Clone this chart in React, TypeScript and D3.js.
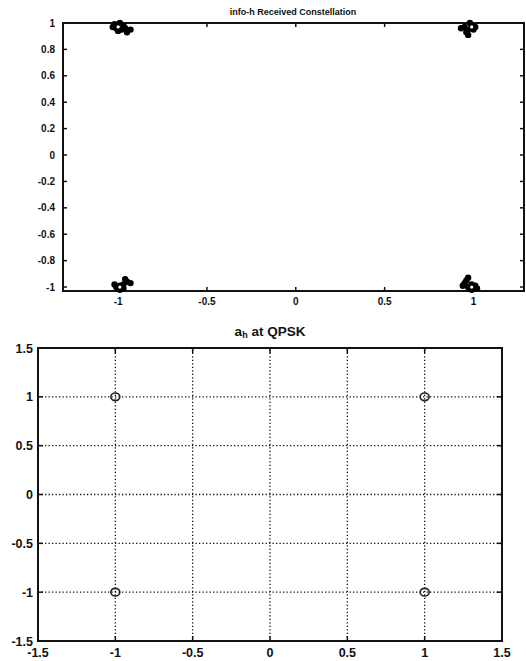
import React from "react";
import * as d3 from "d3";

// Received constellation samples (top chart)
const rxI = [
  -1.02, -0.99, -1.01, -0.98, -0.96, -0.93, -0.95, -1.0, -0.97, -1.03,
  0.95, 0.97, 0.99, 1.01, 0.98, 0.96, 0.97, 1.0, 0.93,
  -1.01, -0.99, -0.97, -0.95, -0.96, -0.93, -1.02, -0.99, -0.97,
  0.95, 0.96, 0.97, 0.99, 1.01, 1.02, 0.99, 0.94, 0.97,
];
const rxQ = [
  0.99, 1.0, 0.96, 0.95, 0.96, 0.95, 0.93, 0.94, 0.98, 0.97,
  0.97, 0.95, 0.98, 0.97, 1.0, 0.93, 0.91, 0.95, 0.96,
  -1.0, -0.99, -0.98, -0.96, -0.94, -0.97, -0.98, -1.02, -1.01,
  -0.97, -0.95, -0.93, -0.98, -0.99, -1.01, -1.02, -0.99, -1.0,
];
// cluster centre markers (top chart)
const centerI = [-1.0, 0.99, -0.99, 0.99];
const centerQ = [0.97, 0.97, -1.0, -1.0];

// Ideal QPSK points (bottom chart)
const qpskI = [-1, 1, -1, 1];
const qpskQ = [1, 1, -1, -1];

const topXTicks = [-1, -0.5, 0, 0.5, 1];
const topYTicks = [-1, -0.8, -0.6, -0.4, -0.2, 0, 0.2, 0.4, 0.6, 0.8, 1];
const botTicks = [-1.5, -1, -0.5, 0, 0.5, 1, 1.5];

const fmt = (v: number) => (Math.abs(v) < 1e-9 ? "0" : String(v));

export default function App() {
  // top chart scales
  const tx = d3.scaleLinear().domain([-1.31, 1.29]).range([63, 525]);
  const ty = d3.scaleLinear().domain([-1.03, 1]).range([291, 23]);
  // bottom chart scales
  const bx = d3.scaleLinear().domain([-1.5, 1.5]).range([38, 502]);
  const by = d3.scaleLinear().domain([-1.5, 1.5]).range([641, 348]);

  const font = "Liberation Sans, Arial, sans-serif";

  return (
    <svg
      width={526}
      height={661}
      style={{ position: "absolute", left: 0, top: 0, background: "#fff" }}
      fontFamily={font}
    >
      <rect x={0} y={0} width={526} height={661} fill="#fff" />
      {/* ---------- Top chart ---------- */}
      <text x={293} y={15} textAnchor="middle" fontSize={9} fontWeight="bold" fill="#111">
        info-h Received Constellation
      </text>
      {topXTicks.map((t) => (
        <g key={"tx" + t}>
          <line x1={tx(t)} x2={tx(t)} y1={ty(-1.03)} y2={ty(-1.03) - 4} stroke="#111" strokeWidth={1.5} />
          <line x1={tx(t)} x2={tx(t)} y1={ty(1)} y2={ty(1) + 4} stroke="#111" strokeWidth={1.5} />
          <text x={tx(t)} y={305} textAnchor="middle" fontSize={10} fontWeight="bold" fill="#111">
            {fmt(t)}
          </text>
        </g>
      ))}
      {topYTicks.map((t) => (
        <g key={"ty" + t}>
          <line x1={63} x2={67} y1={ty(t)} y2={ty(t)} stroke="#111" strokeWidth={1.5} />
          <line x1={520} x2={524} y1={ty(t)} y2={ty(t)} stroke="#111" strokeWidth={1.5} />
          <text x={55} y={ty(t) + 3.5} textAnchor="end" fontSize={10} fontWeight="bold" fill="#111">
            {fmt(t)}
          </text>
        </g>
      ))}
      <rect x={63} y={23} width={461} height={268} fill="none" stroke="#111" strokeWidth={2} />
      {rxI.map((v, i) => (
        <circle key={"rx" + i} cx={tx(v)} cy={ty(rxQ[i])} r={3.2} fill="#000" />
      ))}
      {centerI.map((v, i) => (
        <circle key={"c" + i} cx={tx(v)} cy={ty(centerQ[i])} r={1.6} fill="#fff" />
      ))}

      {/* ---------- Bottom chart ---------- */}
      <text x={270} y={336} textAnchor="middle" fontSize={13.5} fontWeight="bold" fill="#111">
        a<tspan fontSize={9} dy={2}>h</tspan>
        <tspan dy={-2}> at QPSK</tspan>
      </text>
      {botTicks.map((t) => (
        <g key={"g" + t}>
          {t > -1.5 && t < 1.5 && (
            <>
              <line x1={bx(t)} x2={bx(t)} y1={by(-1.5)} y2={by(1.5)} stroke="#111" strokeWidth={1.3} strokeDasharray="1.3,2.2" />
              <line x1={bx(-1.5)} x2={bx(1.5)} y1={by(t)} y2={by(t)} stroke="#111" strokeWidth={1.3} strokeDasharray="1.3,2.2" />
            </>
          )}
          <line x1={bx(t)} x2={bx(t)} y1={by(-1.5)} y2={by(-1.5) - 5} stroke="#111" strokeWidth={1.5} />
          <line x1={bx(t)} x2={bx(t)} y1={by(1.5)} y2={by(1.5) + 5} stroke="#111" strokeWidth={1.5} />
          <line x1={bx(-1.5)} x2={bx(-1.5) + 5} y1={by(t)} y2={by(t)} stroke="#111" strokeWidth={1.5} />
          <line x1={bx(1.5)} x2={bx(1.5) - 5} y1={by(t)} y2={by(t)} stroke="#111" strokeWidth={1.5} />
          <text x={bx(t)} y={657} textAnchor="middle" fontSize={12.5} fontWeight="bold" fill="#111">
            {fmt(t)}
          </text>
          <text x={33} y={by(t) + 4.5} textAnchor="end" fontSize={12.5} fontWeight="bold" fill="#111">
            {fmt(t)}
          </text>
        </g>
      ))}
      <rect x={38} y={348} width={464} height={293} fill="none" stroke="#111" strokeWidth={2} />
      {qpskI.map((v, i) => (
        <ellipse key={"q" + i} cx={bx(v)} cy={by(qpskQ[i])} rx={4.5} ry={3.8} fill="none" stroke="#222" strokeWidth={1.6} />
      ))}
    </svg>
  );
}
